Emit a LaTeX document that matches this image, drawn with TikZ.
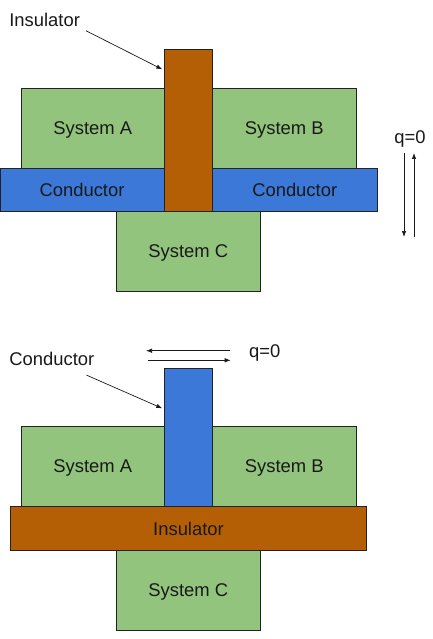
\documentclass[tikz,border=0pt]{standalone}
\usepackage{fontspec}
\setmainfont{Liberation Sans}
\usetikzlibrary{arrows.meta}
\definecolor{sysgreen}{HTML}{93C47D}
\definecolor{condblue}{HTML}{3C78D8}
\definecolor{insbrown}{HTML}{B45F06}
\definecolor{edge}{HTML}{222222}
\begin{document}
\begin{tikzpicture}[x=1pt,y=-1pt,
  box/.style={draw=edge, line width=0.8pt, inner sep=0pt, outer sep=0pt, rectangle, anchor=center,
    font=\fontsize{18.4}{22}\selectfont, text=black!90, text height=13.2pt, text depth=0pt},
  sys/.style={box, fill=sysgreen},
  cond/.style={box, fill=condblue},
  ins/.style={box, fill=insbrown},
  lbl/.style={inner sep=0pt, font=\fontsize{18.4}{22}\selectfont, text=black!90, text height=13.2pt, text depth=0pt},
  arr/.style={line width=0.7pt, draw=black!90, -{Latex[length=6pt,width=4.5pt]}}
]
\useasboundingbox (0,0) rectangle (432,639);
% ---------- top panel ----------
\node[sys, minimum width=143pt, minimum height=80pt] (sysA) at (92.8,128.3) {System A};
\node[sys, minimum width=144pt, minimum height=80pt] (sysB) at (284.3,128.3) {System B};
\node[cond, minimum width=164pt, minimum height=42.7pt] (condL) at (82,189.7) {Conductor};
\node[cond, minimum width=165.3pt, minimum height=42.7pt] (condR) at (294.7,189.7) {Conductor};
\node[sys, minimum width=144pt, minimum height=80pt] (sysC) at (188.3,251) {System C};
\node[ins, minimum width=48pt, minimum height=161.7pt] (insbar) at (188.3,130.2) {};
\node[lbl] (lblIns) at (44.6,20) {Insulator};
\draw[arr] ([shift={(6,4)}]lblIns.south east) -- ([shift={(-2,20)}]insbar.north west);
\node[lbl] (q1) at (410,137) {q=0};
\coordinate (d1) at (404,153);
\coordinate (d2) at (404,237);
\coordinate (u1) at (414,237);
\coordinate (u2) at (414,153);
\draw[arr] (d1) -- (d2);
\draw[arr] (u1) -- (u2);
% ---------- bottom panel ----------
\node[sys, minimum width=143pt, minimum height=79.3pt] (sysA2) at (92.8,466.3) {System A};
\node[sys, minimum width=144pt, minimum height=79.3pt] (sysB2) at (284.3,466.3) {System B};
\node[cond, minimum width=48pt, minimum height=137.7pt] (condbar) at (188.3,437.2) {};
\node[ins, minimum width=356.4pt, minimum height=43.6pt] (insL) at (188.5,528.5) {Insulator};
\node[sys, minimum width=144pt, minimum height=80pt] (sysC2) at (188.3,590.3) {System C};
\node[lbl] (lblCond) at (51.8,359.3) {Conductor};
\draw[arr] ([shift={(-8,9)}]lblCond.south east) -- ([shift={(-2,40)}]condbar.north west);
\node[lbl] (q2) at (264.7,350.7) {q=0};
\coordinate (l1) at (230,350.7);
\coordinate (l2) at (146,350.7);
\coordinate (r1) at (147.7,360.3);
\coordinate (r2) at (230.7,360.3);
\draw[arr] (l1) -- (l2);
\draw[arr] (r1) -- (r2);
\end{tikzpicture}
\end{document}
